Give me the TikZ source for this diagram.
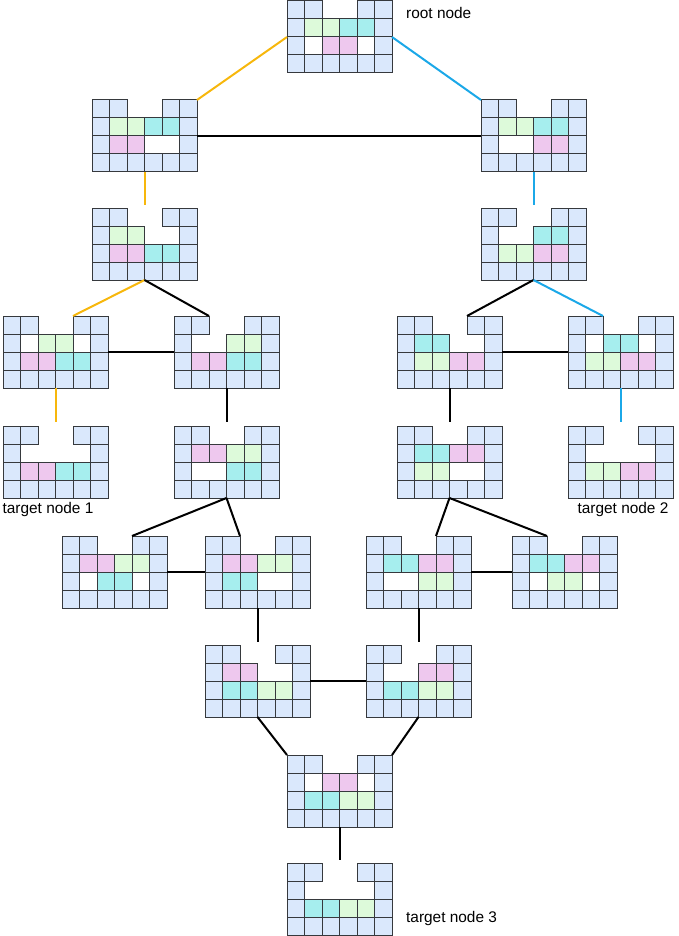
\documentclass[tikz,border=0pt]{standalone}
\usepackage{fontspec}
\setmainfont{Liberation Sans}
\definecolor{cb}{HTML}{DAE8FC}
\definecolor{cg}{HTML}{DDFADA}
\definecolor{cc}{HTML}{A6EEEE}
\definecolor{cp}{HTML}{EEC8EE}
\definecolor{cline}{HTML}{36393D}
\definecolor{orng}{HTML}{F7B70C}
\definecolor{blu}{HTML}{1BA8E8}
\tikzset{
  cellB/.style={fill=cb,draw=cline,line width=1pt},
  cellG/.style={fill=cg,draw=cline,line width=1pt},
  cellC/.style={fill=cc,draw=cline,line width=1pt},
  cellP/.style={fill=cp,draw=cline,line width=1pt},
  cellN/.style={},
  gridbox/.style={minimum width=105pt,minimum height=72pt,inner sep=0pt,outer sep=0pt},
  conn/.style={line width=2pt,black},
  oconn/.style={line width=2pt,orng},
  bconn/.style={line width=2pt,blu},
  lbl/.style={font=\fontsize{15.4}{18}\selectfont,inner sep=0pt}
}
\newcommand{\myrow}[3]{%
  \foreach \c [count=\i from 0] in {#3} {\path[cell\c] (#1+\i*17.5,#2) rectangle ++(17.5,18);}%
}
\newcommand{\mygrid}[7]{%
  \node[gridbox] (#1) at (#2+52.5,#3+36) {};
  \myrow{#2}{#3}{#4}\myrow{#2}{#3+18}{#5}\myrow{#2}{#3+36}{#6}\myrow{#2}{#3+54}{#7}%
}
\begin{document}
\begin{tikzpicture}[x=1pt,y=-1pt]
\useasboundingbox (0,0) rectangle (679,936);
% grids
\mygrid{A}{287}{1}{B,B,N,N,B,B}{B,G,G,C,C,B}{B,N,P,P,N,B}{B,B,B,B,B,B}
\mygrid{Bg}{92}{100}{B,B,N,N,B,B}{B,G,G,C,C,B}{B,P,P,N,N,B}{B,B,B,B,B,B}
\mygrid{Cg}{481}{100}{B,B,N,N,B,B}{B,G,G,C,C,B}{B,N,N,P,P,B}{B,B,B,B,B,B}
\mygrid{D}{92}{208}{B,B,N,N,B,B}{B,G,G,N,N,B}{B,P,P,C,C,B}{B,B,B,B,B,B}
\mygrid{E}{481}{208}{B,B,N,N,B,B}{B,N,N,C,C,B}{B,G,G,P,P,B}{B,B,B,B,B,B}
\mygrid{F}{3}{316}{B,B,N,N,B,B}{B,N,G,G,N,B}{B,P,P,C,C,B}{B,B,B,B,B,B}
\mygrid{Gg}{174}{316}{B,B,N,N,B,B}{B,N,N,G,G,B}{B,P,P,C,C,B}{B,B,B,B,B,B}
\mygrid{H}{397}{316}{B,B,N,N,B,B}{B,C,C,N,N,B}{B,G,G,P,P,B}{B,B,B,B,B,B}
\mygrid{I}{568}{316}{B,B,N,N,B,B}{B,N,C,C,N,B}{B,G,G,P,P,B}{B,B,B,B,B,B}
\mygrid{J}{3}{426}{B,B,N,N,B,B}{B,N,N,N,N,B}{B,P,P,C,C,B}{B,B,B,B,B,B}
\mygrid{K}{174}{426}{B,B,N,N,B,B}{B,P,P,G,G,B}{B,N,N,C,C,B}{B,B,B,B,B,B}
\mygrid{L}{397}{426}{B,B,N,N,B,B}{B,C,C,P,P,B}{B,G,G,N,N,B}{B,B,B,B,B,B}
\mygrid{M}{568}{426}{B,B,N,N,B,B}{B,N,N,N,N,B}{B,G,G,P,P,B}{B,B,B,B,B,B}
\mygrid{Ng}{62}{536}{B,B,N,N,B,B}{B,P,P,G,G,B}{B,N,C,C,N,B}{B,B,B,B,B,B}
\mygrid{O}{205}{536}{B,B,N,N,B,B}{B,P,P,G,G,B}{B,C,C,N,N,B}{B,B,B,B,B,B}
\mygrid{Pg}{366}{536}{B,B,N,N,B,B}{B,C,C,P,P,B}{B,N,N,G,G,B}{B,B,B,B,B,B}
\mygrid{Q}{512}{536}{B,B,N,N,B,B}{B,C,C,P,P,B}{B,N,G,G,N,B}{B,B,B,B,B,B}
\mygrid{R}{205}{645}{B,B,N,N,B,B}{B,P,P,N,N,B}{B,C,C,G,G,B}{B,B,B,B,B,B}
\mygrid{S}{366}{645}{B,B,N,N,B,B}{B,N,N,P,P,B}{B,C,C,G,G,B}{B,B,B,B,B,B}
\mygrid{T}{287}{755}{B,B,N,N,B,B}{B,N,P,P,N,B}{B,C,C,G,G,B}{B,B,B,B,B,B}
\mygrid{U}{287}{863}{B,B,N,N,B,B}{B,N,N,N,N,B}{B,C,C,G,G,B}{B,B,B,B,B,B}
% connectors
\draw[oconn] (A.west) -- (Bg.north east);
\draw[bconn] (A.east) -- (Cg.north west);
\draw[conn] (Bg.east) -- (Cg.west);
\draw[oconn,shorten >=3pt] (Bg.south) -- (D.north);
\draw[bconn,shorten >=3pt] (Cg.south) -- (E.north);
\draw[oconn] (D.south) -- ([xshift=70pt]F.north west);
\draw[conn] (D.south) -- ([xshift=35pt]Gg.north west);
\draw[conn] (E.south) -- ([xshift=70pt]H.north west);
\draw[bconn] (E.south) -- ([xshift=35pt]I.north west);
\draw[conn] (F.east) -- (Gg.west);
\draw[conn] (H.east) -- (I.west);
\draw[oconn,shorten >=4pt] (F.south) -- (J.north);
\draw[conn,shorten >=4pt] (Gg.south) -- (K.north);
\draw[conn,shorten >=4pt] (H.south) -- (L.north);
\draw[bconn,shorten >=4pt] (I.south) -- (M.north);
\draw[conn] (K.south) -- ([xshift=70pt]Ng.north west);
\draw[conn] (K.south) -- ([xshift=35pt]O.north west);
\draw[conn] (L.south) -- ([xshift=70pt]Pg.north west);
\draw[conn] (L.south) -- ([xshift=35pt]Q.north west);
\draw[conn] (Ng.east) -- (O.west);
\draw[conn] (Pg.east) -- (Q.west);
\draw[conn,shorten >=3pt] (O.south) -- (R.north);
\draw[conn,shorten >=3pt] (Pg.south) -- (S.north);
\draw[conn] (R.east) -- (S.west);
\draw[conn] (R.south) -- (T.north west);
\draw[conn] (S.south) -- (T.north east);
\draw[conn,shorten >=3pt] (T.south) -- (U.north);
% labels
\node[lbl,anchor=west] (lroot) at (406,13) {root node};
\node[lbl] (lt1) at (48,510) {target node 1};
\node[lbl] (lt2) at (623,510) {target node 2};
\node[lbl,anchor=west] (lt3) at (406,919) {target node 3};
\end{tikzpicture}
\end{document}
